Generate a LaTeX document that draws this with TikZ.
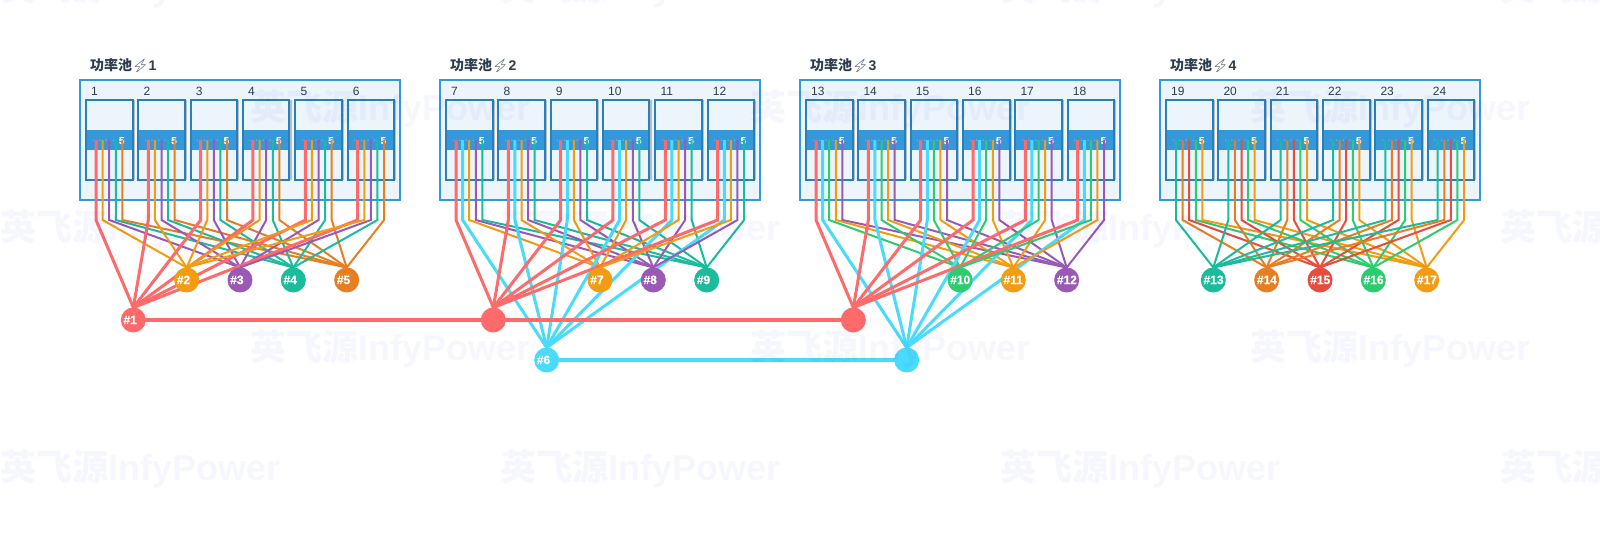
\documentclass[tikz,border=0pt]{standalone}
\usepackage{fontspec}
\setmainfont{Liberation Sans}
\newfontfamily\cjk{Noto Sans CJK SC}
\newfontfamily\boltfont{Noto Emoji}
\newfontfamily\heavyfont[FakeBold=0.6]{Liberation Sans Bold}
\definecolor{cpool}{HTML}{3498DB}
\definecolor{cmod}{HTML}{2980B9}
\definecolor{cfill}{HTML}{EBF5FB}
\definecolor{cink}{HTML}{2C3E50}
\definecolor{cred}{HTML}{FF6B6B}
\definecolor{ccyan}{HTML}{48DBFB}
\definecolor{corange}{HTML}{F39C12}
\definecolor{cpurple}{HTML}{9B59B6}
\definecolor{cteal}{HTML}{1ABC9C}
\definecolor{cdorange}{HTML}{E67E22}
\definecolor{cgreen}{HTML}{2ECC71}
\definecolor{cdred}{HTML}{E74C3C}
\pgfdeclarelayer{back}\pgfdeclarelayer{wires}\pgfdeclarelayer{front}
\pgfsetlayers{back,wires,main,front}
\tikzset{
  x=1pt,y=-1pt,
  poolbox/.style={draw=cpool,line width=2pt,fill=cfill},
  modbox/.style={draw=cmod,line width=2pt},
  modfill/.style={fill=cfill},
  band/.style={fill=cpool},
  shade/.style={fill=black!22!cfill},
  wred/.style={draw=cred,line width=3pt},
  wcyan/.style={draw=ccyan,line width=3pt},
  worange/.style={draw=corange,line width=2pt},
  wpurple/.style={draw=cpurple,line width=2pt},
  wteal/.style={draw=cteal,line width=2pt},
  wdorange/.style={draw=cdorange,line width=2pt},
  wgreen/.style={draw=cgreen,line width=2pt},
  wdred/.style={draw=cdred,line width=2pt},
  bus/.style={line width=4pt},
  dot/.style={circle,minimum size=25pt,inner sep=0pt,outer sep=0pt},
  dotlabel/.style={anchor=base west,inner sep=0pt,text=white,font=\fontsize{12}{12}\heavyfont},
  modnum/.style={anchor=base west,inner sep=0pt,text=cink,font=\fontsize{12}{12}\selectfont},
  pintiny/.style={anchor=base west,inner sep=0pt,text=white,text opacity=.6,font=\fontsize{2.5}{3}\selectfont},
  pinfive/.style={anchor=base west,inner sep=0pt,text=white,font=\fontsize{10}{10}\heavyfont},
  pooltitle/.style={anchor=base west,inner sep=0pt,text=cink,font=\fontsize{14}{14}\selectfont\bfseries},
  watermark/.style={anchor=base west,inner sep=0pt,text=blue,text opacity=.035,font=\fontsize{36}{36}\selectfont\bfseries},
}
\begin{document}
\begin{tikzpicture}
\useasboundingbox (0,0) rectangle (1600,550);
\begin{pgfonlayer}{back}
\fill[white] (0,0) rectangle (1600,550);
\end{pgfonlayer}
\coordinate (bend) at (0,220);
% target circles
\foreach \nm/\cx/\cy/\col in {
  n1a/133.33/320/cred,n2/186.67/280/corange,n3/240/280/cpurple,n4/293.33/280/cteal,n5/346.67/280/cdorange,
  n1b/493.33/320/cred,n6a/546.67/360/ccyan,n7/600/280/corange,n8/653.33/280/cpurple,n9/706.67/280/cteal,
  n1c/853.33/320/cred,n6b/906.67/360/ccyan,n10/960/280/cgreen,n11/1013.33/280/corange,n12/1066.67/280/cpurple,
  n13/1213.33/280/cteal,n14/1266.67/280/cdorange,n15/1320/280/cdred,n16/1373.33/280/cgreen,n17/1426.67/280/corange}
  {\node[dot,fill=\col] (\nm) at (\cx,\cy) {};}
\foreach \nm/\txt in {n1a/1,n2/2,n3/3,n4/4,n5/5,n6a/6,n7/7,n8/8,n9/9,n10/10,n11/11,n12/12,n13/13,n14/14,n15/15,n16/16,n17/17}
  {\node[dotlabel] (\nm t) at ([xshift=-10pt,yshift=-4pt]\nm.center) {\#\txt};}
% pools, modules, wires
\foreach \p/\tlist in {
  0/{n1a/wred,n2/worange,n3/wpurple,n4/wteal,n5/wdorange},
  1/{n1b/wred,n6a/wcyan,n7/worange,n8/wpurple,n9/wteal},
  2/{n1c/wred,n6b/wcyan,n10/wgreen,n11/worange,n12/wpurple},
  3/{n13/wteal,n14/wdorange,n15/wdred,n16/wgreen,n17/worange}}{
  \pgfmathsetmacro{\px}{80+360*\p}
  \pgfmathtruncatemacro{\pnum}{\p+1}
  \begin{pgfonlayer}{back}
    \draw[poolbox] (\px,80) rectangle ++(320,120);
    \node[pooltitle] (title\p) at (\px+10,70) {{\cjk 功率池}{\boltfont\fontsize{13}{13}\selectfont\char"26A1}\pnum};
  \end{pgfonlayer}
  \foreach \m in {0,...,5}{
    \pgfmathsetmacro{\mx}{\px+6+52.33*\m}
    \pgfmathtruncatemacro{\mnum}{6*\p+\m+1}
    \begin{pgfonlayer}{back}
      \fill[shade] (\mx+46.5,100) rectangle ++(2.2,80);
      \fill[modfill] (\mx,100) rectangle ++(46.5,80);
      \fill[band] (\mx,130) rectangle ++(46.5,20);
      \draw[modbox] (\mx,100) rectangle ++(46.5,80);
      \node[modnum] (num\mnum) at (\mx+5,95) {\mnum};
    \end{pgfonlayer}
    \foreach \t/\s [count=\i from 0] in \tlist {
      \pgfmathsetmacro{\wx}{\mx+10+6.6*\i}
      \coordinate (pin\mnum-\i) at (\wx,140);
      \begin{pgfonlayer}{wires}
        \ifnum\i<4
          \node[pintiny] (lab\mnum-\i) at (\wx-3.7,141) {\the\numexpr\i+1\relax};
        \else
          \node[pinfive] (lab\mnum-\i) at (\wx-3.7,144) {5};
        \fi
        \draw[\s] (pin\mnum-\i) -- (pin\mnum-\i |- bend) -- (\t.north);
      \end{pgfonlayer}
    }
  }
}
\begin{pgfonlayer}{wires}
  \draw[wred,bus] (n1a.center) -- (n1b.center) -- (n1c.center);
  \draw[wcyan,bus] (n6a.center) -- (n6b.center);
\end{pgfonlayer}
% watermark
\begin{pgfonlayer}{front}
  \foreach \wi/\wx/\wy in {1/0/0,2/500/0,3/1000/0,4/1500/0,
    5/250/120,6/750/120,7/1250/120,
    8/0/240,9/500/240,10/1000/240,11/1500/240,
    12/250/360,13/750/360,14/1250/360,
    15/0/480,16/500/480,17/1000/480,18/1500/480}
    {\node[watermark] (wm\wi) at (\wx,\wy) {{\cjk 英飞源}InfyPower};}
\end{pgfonlayer}
\end{tikzpicture}
\end{document}
